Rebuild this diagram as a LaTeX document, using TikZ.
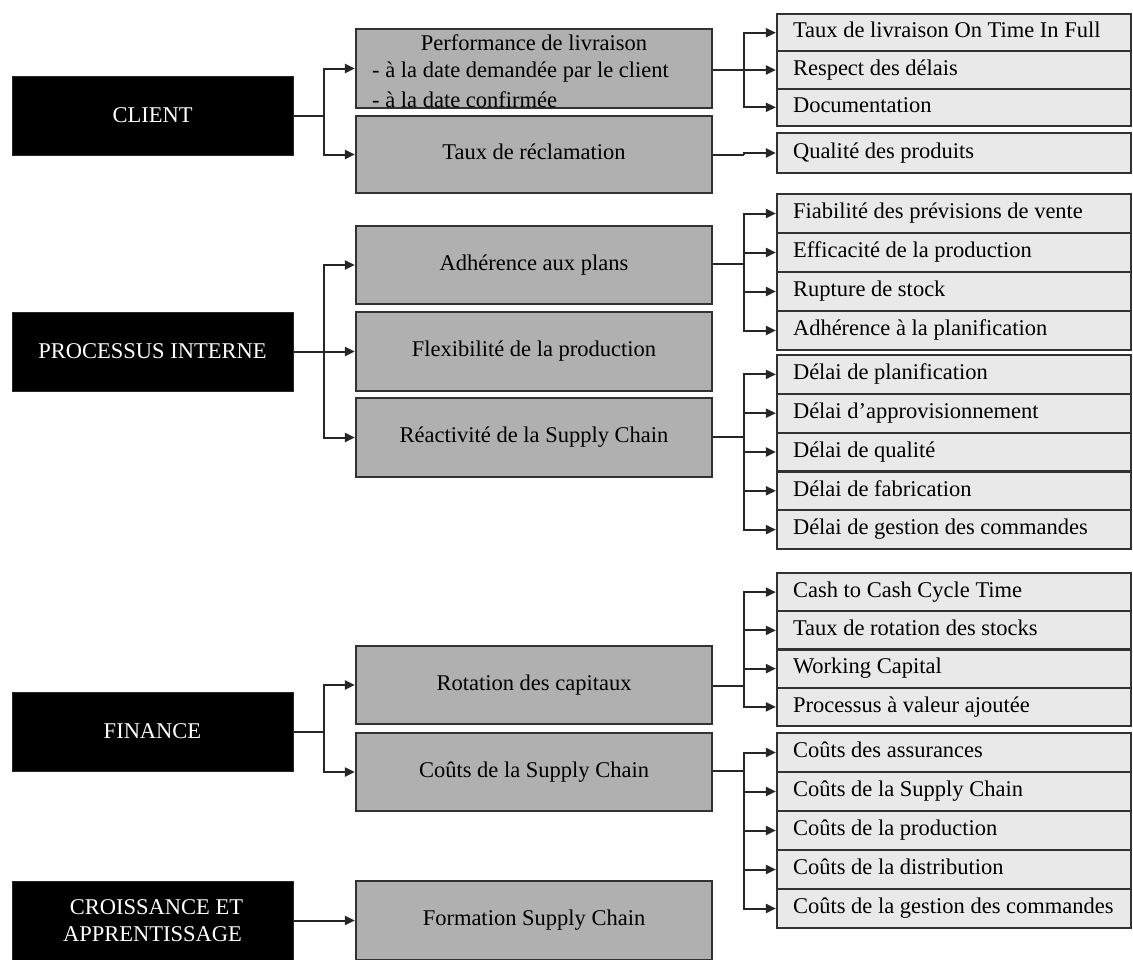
\documentclass[tikz,border=0pt]{standalone}
\usepackage{fontspec}
\setmainfont{Liberation Serif}
\usetikzlibrary{arrows.meta}
\definecolor{midfill}{RGB}{176,176,176}
\definecolor{rfill}{RGB}{233,233,233}
\definecolor{bcol}{RGB}{50,50,50}
\newcommand\rtxt[1]{\makebox[322pt][l]{#1}}
\begin{document}
\begin{tikzpicture}[x=1pt,y=-1pt,
  font=\fontsize{22.5}{27}\selectfont,
  blk/.style={fill=black, draw=black!85, line width=1pt, text=white, minimum width=281pt, minimum height=79pt, inner sep=0pt, align=center},
  mid/.style={fill=midfill, draw=bcol, line width=2.2pt, minimum width=356pt, minimum height=78pt, inner sep=0pt, text height=15.5pt, text depth=5pt},
  rbx/.style={fill=rfill, draw=bcol, line width=2.2pt, minimum width=354pt, inner xsep=16pt, inner ysep=0pt, text height=15.5pt, text depth=5pt},
  conn/.style={line width=2pt, draw=black!85},
  arr/.style={conn, -{Triangle[length=10pt,width=9pt]}},
  lbl/.style={inner sep=0pt}
]
\useasboundingbox (0,0) rectangle (1133,959);

% black boxes
\node[blk] (client) at (152.5,115.5) {CLIENT};
\node[blk] (proc) at (152.5,351.5) {PROCESSUS INTERNE};
\node[blk] (fin) at (152.5,731.5) {FINANCE};
\node[blk] (cro) at (152.5,920.5) {\hspace*{8pt}CROISSANCE ET\\APPRENTISSAGE};

% middle boxes
\node[mid, minimum height=79pt] (perf) at (534,68.5) {};
\node[mid, minimum height=77pt] (recl) at (534,154.5) {Taux de réclamation};
\node[mid] (adh) at (534,265) {Adhérence aux plans};
\node[mid, minimum height=79pt] (flex) at (534,351.5) {Flexibilité de la production};
\node[mid, minimum height=79pt] (reac) at (534,437.5) {Réactivité de la Supply Chain};
\node[mid] (rot) at (534,685) {Rotation des capitaux};
\node[mid] (cout) at (534,772) {Coûts de la Supply Chain};
\node[mid, minimum height=79pt] (form) at (534,920.5) {Formation Supply Chain};

\node[lbl] (perfa) at (534,43) {Performance de livraison};
\node[lbl, anchor=west] (perfb) at (372,72) {- à la date demandée par le client};
\node[lbl, anchor=west] (perfc) at (372,100) {- à la date confirmée};

% right boxes group 1
\node[rbx, minimum height=37.3pt] (otif) at (954,32.7) {\rtxt{Taux de livraison On Time In Full}};
\node[rbx, minimum height=37.3pt] (resp) at (954,70) {\rtxt{Respect des délais}};
\node[rbx, minimum height=37.3pt] (doc) at (954,107.3) {\rtxt{Documentation}};
\node[rbx, minimum height=40pt] (qual) at (954,153) {\rtxt{Qualité des produits}};

% group 2
\node[rbx, minimum height=39pt] (fiab) at (954,213.5) {\rtxt{Fiabilité des prévisions de vente}};
\node[rbx, minimum height=39pt] (effi) at (954,252.5) {\rtxt{Efficacité de la production}};
\node[rbx, minimum height=39pt] (rupt) at (954,291.5) {\rtxt{Rupture de stock}};
\node[rbx, minimum height=39pt] (adhp) at (954,330.5) {\rtxt{Adhérence à la planification}};

% group 3
\node[rbx, minimum height=38.8pt] (dpla) at (954,374.4) {\rtxt{Délai de planification}};
\node[rbx, minimum height=38.8pt] (dapp) at (954,413.2) {\rtxt{Délai d'approvisionnement}};
\node[rbx, minimum height=38.8pt] (dqua) at (954,452) {\rtxt{Délai de qualité}};
\node[rbx, minimum height=38.8pt] (dfab) at (954,490.8) {\rtxt{Délai de fabrication}};
\node[rbx, minimum height=38.8pt] (dges) at (954,529.6) {\rtxt{Délai de gestion des commandes}};

% group 4
\node[rbx, minimum height=38.25pt] (cash) at (954,592.1) {\rtxt{Cash to Cash Cycle Time}};
\node[rbx, minimum height=38.25pt] (trot) at (954,630.4) {\rtxt{Taux de rotation des stocks}};
\node[rbx, minimum height=38.25pt] (work) at (954,668.6) {\rtxt{Working Capital}};
\node[rbx, minimum height=38.25pt] (pval) at (954,706.9) {\rtxt{Processus à valeur ajoutée}};

% group 5
\node[rbx, minimum height=39pt] (cass) at (954,752.5) {\rtxt{Coûts des assurances}};
\node[rbx, minimum height=39pt] (csc) at (954,791.5) {\rtxt{Coûts de la Supply Chain}};
\node[rbx, minimum height=39pt] (cprod) at (954,830.5) {\rtxt{Coûts de la production}};
\node[rbx, minimum height=39pt] (cdist) at (954,869.5) {\rtxt{Coûts de la distribution}};
\node[rbx, minimum height=39pt] (cges) at (954,908.5) {\rtxt{Coûts de la gestion des commandes}};

% junctions left
\coordinate (jcl) at (324,115.5);
\coordinate (jpr) at (324,351.5);
\coordinate (jfi) at (324,731.5);
\draw[conn] (client.east) -- (jcl);
\draw[arr] (jcl) |- (perf.west);
\draw[arr] (jcl) |- (recl.west);
\draw[conn] (proc.east) -- (jpr);
\draw[arr] (jpr) |- (adh.west);
\draw[arr] (jpr) -- (flex.west);
\draw[arr] (jpr) |- (reac.west);
\draw[conn] (fin.east) -- (jfi);
\draw[arr] (jfi) |- (rot.west);
\draw[arr] (jfi) |- (cout.west);
\draw[arr] (cro.east) -- (form.west);

% junctions right
\coordinate (jpe) at (744,70);
\coordinate (jre) at (744,154.5);
\coordinate (jad) at (744,264);
\coordinate (jrc) at (744,437);
\coordinate (jro) at (744,686);
\coordinate (jco) at (744,771);
\draw[conn] (perf.east |- jpe) -- (jpe);
\draw[arr] (jpe) |- (otif.west);
\draw[arr] (jpe) |- (resp.west);
\draw[arr] (jpe) |- (doc.west);
\draw[conn] (recl.east) -- (jre);
\draw[arr] (jre) |- (qual.west);
\draw[conn] (adh.east |- jad) -- (jad);
\draw[arr] (jad) |- (fiab.west);
\draw[arr] (jad) |- (effi.west);
\draw[arr] (jad) |- (rupt.west);
\draw[arr] (jad) |- (adhp.west);
\draw[conn] (reac.east |- jrc) -- (jrc);
\draw[arr] (jrc) |- (dpla.west);
\draw[arr] (jrc) |- (dapp.west);
\draw[arr] (jrc) |- (dqua.west);
\draw[arr] (jrc) |- (dfab.west);
\draw[arr] (jrc) |- (dges.west);
\draw[conn] (rot.east |- jro) -- (jro);
\draw[arr] (jro) |- (cash.west);
\draw[arr] (jro) |- (trot.west);
\draw[arr] (jro) |- (work.west);
\draw[arr] (jro) |- (pval.west);
\draw[conn] (cout.east |- jco) -- (jco);
\draw[arr] (jco) |- (cass.west);
\draw[arr] (jco) |- (csc.west);
\draw[arr] (jco) |- (cprod.west);
\draw[arr] (jco) |- (cdist.west);
\draw[arr] (jco) |- (cges.west);
\end{tikzpicture}
\end{document}
